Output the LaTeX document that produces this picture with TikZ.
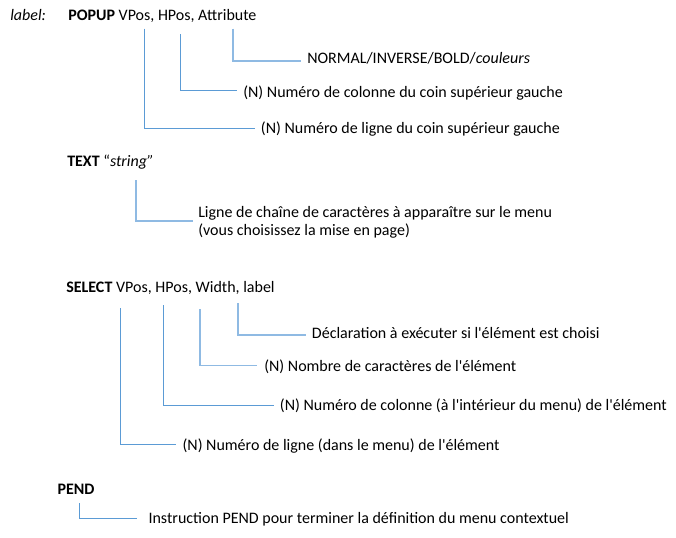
\documentclass[tikz,border=0pt]{standalone}
\usepackage{fontspec}
\newfontfamily\calib{Carlito}
\usetikzlibrary{calc}
\definecolor{linkblue}{HTML}{5B9BD5}
\definecolor{softblue}{HTML}{8FBAE3}
\begin{document}
\begin{tikzpicture}[x=0.75pt,y=-0.75pt,
  every node/.style={inner sep=0pt, font=\calib\fontsize{12}{13}\selectfont},
  head/.style={anchor=base west},
  desc/.style={anchor=base west},
  conn/.style={draw=linkblue, line width=0.75pt},
  connsoft/.style={draw=softblue, line width=1.2pt}]
\useasboundingbox (0,0) rectangle (676,537);
\fill[white] (0,0) rectangle (676,537);

% POPUP
\node[head] (lab) at (10,20) {\textit{label:}};
\node[head] (popup) at (68,20) {\textbf{POPUP} VPos, HPos, Attribute};
\coordinate (tpv) at (144.3,28.5);
\coordinate (tph) at (180.7,34);
\coordinate (tpa) at (232.7,28.5);
\node[desc] (dpa) at (307,63.3) {NORMAL/INVERSE/BOLD/\textit{couleurs}};
\node[desc] (dph) at (243,97.3) {(N) Numéro de colonne du coin supérieur gauche};
\node[desc] (dpv) at (260.7,133.3) {(N) Numéro de ligne du coin supérieur gauche};
\draw[connsoft] (tpa) |- ($(dpa.base west)+(-6,-2.6)$);
\draw[conn] (tph) |- ($(dph.base west)+(-6.3,-6.6)$);
\draw[conn] (tpv) |- ($(dpv.base west)+(-5.7,-5)$);

% TEXT
\node[head] (text) at (67,166) {\textbf{TEXT} “\textit{string”}};
\coordinate (tt) at (136,180);
\node[anchor=base west, align=left] (dt) at (198,235) {Ligne de chaîne de caractères à apparaître sur le menu\\(vous choisissez la mise en page)};
\draw[connsoft] (tt) |- ($(dt.base west)+(-5.3,-14)$);

% SELECT
\node[head] (select) at (66,292.7) {\textbf{SELECT} VPos, HPos, Width, label};
\coordinate (tsv) at (120.7,308.3);
\coordinate (tsh) at (163.3,305);
\coordinate (tsw) at (200,309);
\coordinate (tsl) at (237.7,303.3);
\node[desc] (dsl) at (311.7,338.3) {Déclaration à exécuter si l'élément est choisi};
\node[desc] (dsw) at (264,371.7) {(N) Nombre de caractères de l'élément};
\node[desc] (dsh) at (279.7,410) {(N) Numéro de colonne (à l'intérieur du menu) de l'élément};
\node[desc] (dsv) at (182.3,450.7) {(N) Numéro de ligne (dans le menu) de l'élément};
\draw[connsoft] (tsl) |- ($(dsl.base west)+(-5.7,-3.3)$);
\draw[connsoft] (tsw) |- ($(dsw.base west)+(-7.3,-6.3)$);
\draw[conn] (tsh) |- ($(dsh.base west)+(-5.7,-5)$);
\draw[conn] (tsv) |- ($(dsv.base west)+(-6.6,-6.3)$);

% PEND
\node[head] (pend) at (57.3,494) {\textbf{PEND}};
\coordinate (tpe) at (79.3,503.3);
\node[desc] (dpe) at (148.3,523.3) {Instruction PEND pour terminer la définition du menu contextuel};
\draw[conn] (tpe) |- ($(dpe.base west)+(-11.3,-5)$);
\end{tikzpicture}
\end{document}
